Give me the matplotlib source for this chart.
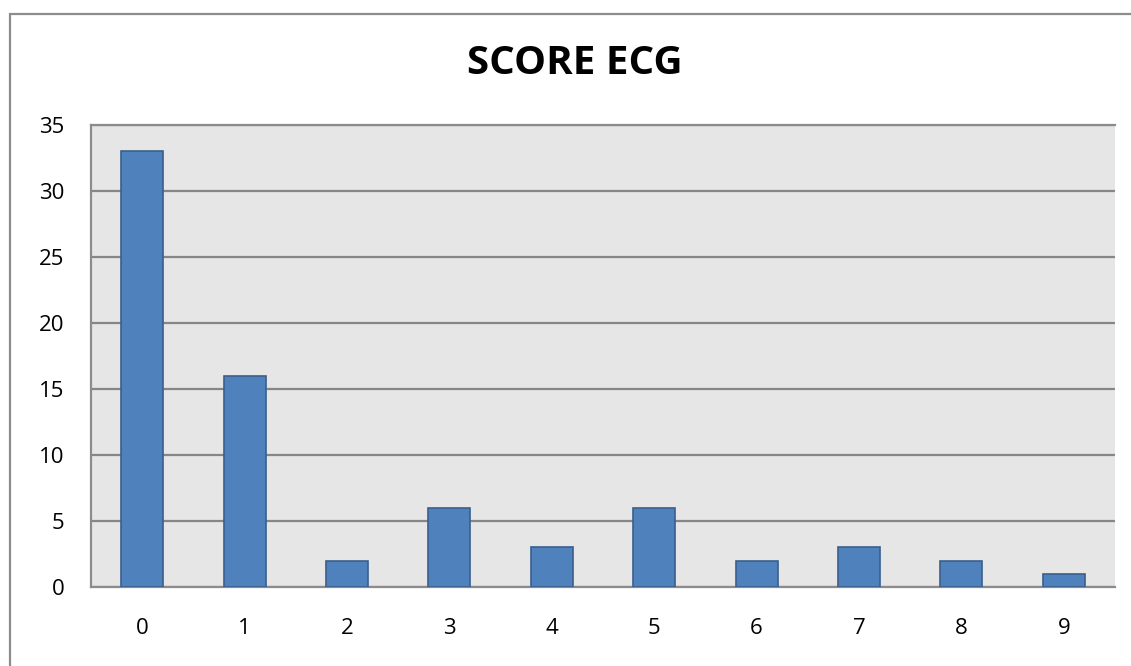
import matplotlib
matplotlib.use("Agg")
import matplotlib.pyplot as plt
from matplotlib.patches import Rectangle

# ECG score distribution
scores = ["0", "1", "2", "3", "4", "5", "6", "7", "8", "9"]
counts = [33, 16, 2, 6, 3, 6, 2, 3, 2, 1]
yticks = [0, 5, 10, 15, 20, 25, 30, 35]

plt.rcParams["font.family"] = ["Open Sans", "DejaVu Sans"]

W, H = 1131, 666
fig = plt.figure(figsize=(W / 100, H / 100), dpi=100)
fig.patch.set_facecolor("white")

# chart border (only top/left edges fall inside the image)
fig.patches.append(Rectangle((9.5 / W, -0.05), 1.2, (H - 13.5) / H + 0.05,
                             transform=fig.transFigure, fill=False,
                             edgecolor="#8c8c8c", linewidth=1.6))

ax = fig.add_axes([91 / W, (H - 587) / H, (1115 - 91) / W, (587 - 125) / H])
ax.set_facecolor("#e6e6e6")

x = range(len(scores))
ax.bar(x, counts, width=0.41, color="#4f81bd", edgecolor="#3a5f8c",
       linewidth=1.2, zorder=3)

ax.set_xlim(-0.5, len(scores) - 0.5)
ax.set_ylim(0, 35)
ax.set_yticks(yticks)
ax.set_xticks(list(x))
ax.set_xticklabels(scores)
ax.yaxis.grid(True, color="#868686", linewidth=1.6, zorder=1)
ax.set_axisbelow(True)

ax.spines["right"].set_visible(False)
for side in ["left", "bottom", "top"]:
    ax.spines[side].set_color("#8c8c8c")
    ax.spines[side].set_linewidth(1.6)

ax.tick_params(axis="both", length=0, labelsize=16, colors="black")
ax.tick_params(axis="y", pad=19)
ax.tick_params(axis="x", pad=22)

fig.text(575 / W, (H - 63) / H, "SCORE ECG", ha="center", va="center",
         fontsize=29, fontweight="bold")

fig.savefig("out.png", dpi=100)
